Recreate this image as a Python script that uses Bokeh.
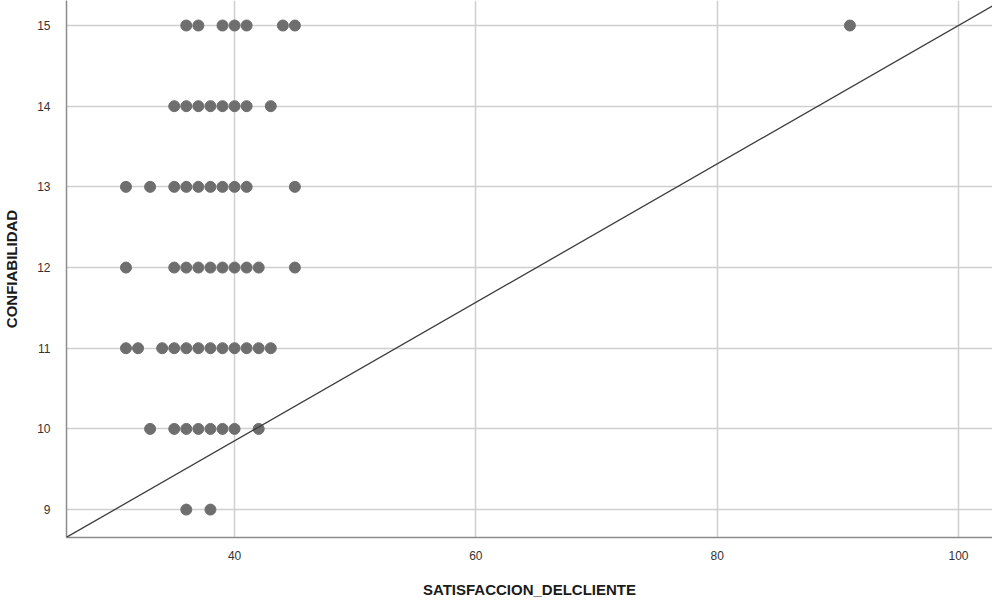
from bokeh.plotting import figure
from bokeh.models import Range1d, FixedTicker, Slope, ColumnDataSource
from bokeh.embed import file_html
from bokeh.resources import INLINE

# Data
conf_15 = [36, 37, 39, 40, 41, 44, 45, 91]
conf_14 = [35, 36, 37, 38, 39, 40, 41, 43]
conf_13 = [31, 33, 35, 36, 37, 38, 39, 40, 41, 45]
conf_12 = [31, 35, 36, 37, 38, 39, 40, 41, 42, 45]
conf_11 = [31, 32, 34, 35, 36, 37, 38, 39, 40, 41, 42, 43]
conf_10 = [33, 35, 36, 37, 38, 39, 40, 42]
conf_9 = [36, 38]

rows = {15: conf_15, 14: conf_14, 13: conf_13, 12: conf_12, 11: conf_11, 10: conf_10, 9: conf_9}
xs, ys = [], []
for yv, xl in rows.items():
    for xv in xl:
        xs.append(xv)
        ys.append(yv)

x_ticks = [40, 60, 80, 100]
y_ticks = [9, 10, 11, 12, 13, 14, 15]

# reference line
ref_gradient = 0.0858
ref_intercept = 6.42

p = figure(width=992, height=600, output_backend="svg", toolbar_location=None,
           x_range=Range1d(26.07, 102.82), y_range=Range1d(8.654, 15.31),
           min_border_left=61, min_border_right=0, min_border_top=0, min_border_bottom=61)
p.outline_line_color = None
p.background_fill_color = "white"

for ax in (p.xaxis[0], p.yaxis[0]):
    ax.major_tick_line_color = None
    ax.minor_tick_line_color = None
    ax.axis_line_color = "#8c8c8c"
    ax.axis_line_width = 1.5
    ax.major_label_text_font = "Liberation Sans"
    ax.major_label_text_font_size = "12px"
    ax.major_label_text_color = "#333333"
    ax.axis_label_text_font = "Liberation Sans"
    ax.axis_label_text_font_size = "15px"
    ax.axis_label_text_font_style = "bold"
    ax.axis_label_text_color = "#1a1a1a"

p.xaxis.ticker = FixedTicker(ticks=x_ticks)
p.yaxis.ticker = FixedTicker(ticks=y_ticks)
p.xaxis.axis_label = "SATISFACCION_DELCLIENTE"
p.yaxis.axis_label = "CONFIABILIDAD"
p.xaxis.major_label_standoff = 7
p.yaxis.major_label_standoff = 10
p.xaxis.axis_label_standoff = 18
p.yaxis.axis_label_standoff = 14

p.xgrid.ticker = FixedTicker(ticks=x_ticks)
p.ygrid.ticker = FixedTicker(ticks=y_ticks)
for g in (p.xgrid[0], p.ygrid[0]):
    g.grid_line_color = "#cfcfcf"
    g.grid_line_width = 1.5

src = ColumnDataSource(dict(x=xs, y=ys))
p.scatter("x", "y", source=src, size=11, fill_color="#6e6e6e", line_color="#6e6e6e")

p.add_layout(Slope(gradient=ref_gradient, y_intercept=ref_intercept,
                   line_color="#3c3c3c", line_width=1.3))

open("out.html", "w").write(file_html(p, INLINE))
